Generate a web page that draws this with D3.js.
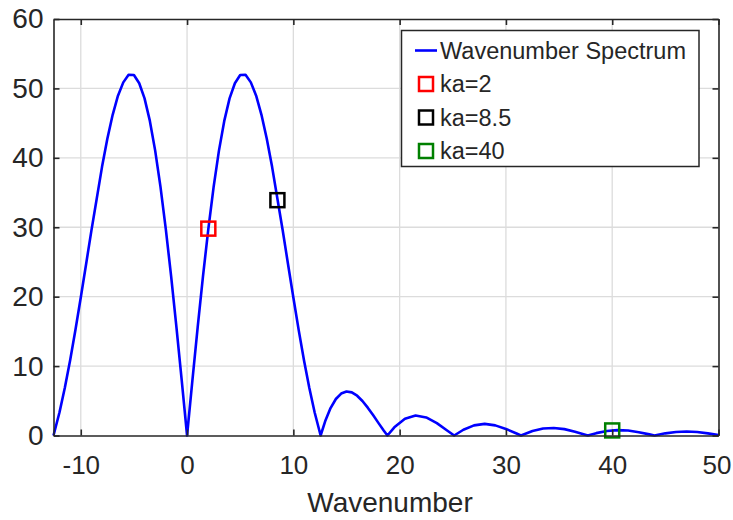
<!DOCTYPE html>
<html>
<head>
<meta charset="utf-8">
<script src="https://cdn.jsdelivr.net/npm/d3@7"></script>
<style>
  body { margin: 0; background: #fff; }
  text { font-family: "Liberation Sans", Arial, sans-serif; fill: #262626; }
</style>
</head>
<body>
<div id="chart"></div>
<script>
// wavenumber spectrum
var waveNumber = [-12.566, -12, -11.5, -11, -10.5, -10, -9.5, -9, -8.5, -8, -7.5, -7, -6.5, -6, -5.5, -5,
    -4.5, -4, -3.5, -3, -2.5, -2, -1.5, -1, -0.5, 0,
    0.5, 1, 1.5, 2, 2.5, 3, 3.5, 4, 4.5, 5, 5.5, 6, 6.5, 7, 7.5, 8, 8.5, 9, 9.5, 10, 10.5, 11, 11.5, 12, 12.566,
    13, 13.5, 14, 14.5, 15, 15.5, 16, 16.5, 17, 17.5, 18, 18.5, 18.85,
    19.5, 20.5, 21.5, 22.5, 23.5, 24.5, 25.133,
    26, 27, 28, 29, 30, 31, 31.416,
    32.5, 33.5, 34.5, 35.5, 36.5, 37.699,
    38.5, 39.5, 40.5, 41.5, 42.5, 43.5, 43.982,
    45, 46, 47, 48, 49, 50];
var spectrum = [0, 3.35, 6.87, 10.85, 15.22, 19.87, 24.68, 29.52, 34.1, 38.70, 42.74, 46.20, 48.95, 50.87, 51.97, 51.94,
    50.75, 48.57, 45.32, 41.04, 35.81, 29.74, 22.96, 15.62, 7.91, 0,
    7.91, 15.62, 22.96, 29.74, 35.81, 41.04, 45.32, 48.57, 50.75, 51.94, 51.97, 50.87, 48.95, 46.20, 42.74, 38.70, 34.1, 29.52, 24.68, 19.87, 15.22, 10.85, 6.87, 3.35, 0,
    2.08, 3.95, 5.26, 6.04, 6.34, 6.21, 5.73, 4.97, 4.01, 2.94, 1.82, 0.72, 0,
    1.18, 2.42, 2.88, 2.60, 1.78, 0.69, 0,
    0.83, 1.46, 1.67, 1.46, 0.95, 0.28, 0,
    0.64, 1.00, 1.09, 0.92, 0.55, 0,
    0.34, 0.65, 0.77, 0.71, 0.48, 0.16, 0,
    0.31, 0.51, 0.58, 0.50, 0.31, 0.07];

var markerNames = ["ka=2", "ka=8.5", "ka=40"];
var markerK = [2, 8.5, 40];
var markerValue = [29.8, 33.9, 0.73];
var markerColours = ["#ff0000", "#000000", "#008000"];

var xTicks = [-10, 0, 10, 20, 30, 40, 50];
var yTicks = [0, 10, 20, 30, 40, 50, 60];

window.onload = function(){
    drawChart();
};

function drawChart(){
    var svg = d3.select("#chart").append("svg").attr("width", 733).attr("height", 520);

    var left = 53.5, right = 718.5, top = 19, bottom = 435.5;

    var xScale = d3.scaleLinear().domain([-12.566, 50]).range([left, right]);
    var yScale = d3.scaleLinear().domain([0, 60]).range([bottom, top]);

    // grid
    svg.append("g").selectAll("line")
        .data(xTicks.filter(function(d){ return d < 50; }))
        .enter().append("line")
        .attr("x1", function(d){ return xScale(d); })
        .attr("x2", function(d){ return xScale(d); })
        .attr("y1", top).attr("y2", bottom)
        .attr("stroke", "#dcdcdc").attr("stroke-width", 1.3);

    svg.append("g").selectAll("line")
        .data(yTicks.filter(function(d){ return d > 0 && d < 60; }))
        .enter().append("line")
        .attr("x1", left).attr("x2", right)
        .attr("y1", function(d){ return yScale(d); })
        .attr("y2", function(d){ return yScale(d); })
        .attr("stroke", "#dcdcdc").attr("stroke-width", 1.3);

    // the spectrum
    var line = d3.line()
        .x(function(d, i){ return xScale(waveNumber[i]); })
        .y(function(d){ return yScale(d); });

    svg.append("path")
        .datum(spectrum)
        .attr("d", line)
        .attr("fill", "none")
        .attr("stroke", "#0000ff")
        .attr("stroke-width", 2.6)
        .attr("stroke-linejoin", "round");

    // ka markers
    svg.append("g").selectAll("rect")
        .data(markerK)
        .enter().append("rect")
        .attr("x", function(d){ return xScale(d) - 7; })
        .attr("y", function(d, i){ return yScale(markerValue[i]) - 7; })
        .attr("width", 14).attr("height", 14)
        .attr("fill", "none")
        .attr("stroke", function(d, i){ return markerColours[i]; })
        .attr("stroke-width", 2.5);

    // axes, ticks pointing inwards on all four sides
    var plain = function(d){ return String(d); };
    var xAxis = svg.append("g")
        .attr("transform", "translate(0," + bottom + ")")
        .call(d3.axisBottom(xScale).tickValues(xTicks).tickFormat(plain).tickSize(-6).tickSizeOuter(0).tickPadding(20));
    var yAxis = svg.append("g")
        .attr("transform", "translate(" + left + ",0)")
        .call(d3.axisLeft(yScale).tickValues(yTicks).tickFormat(plain).tickSize(-6).tickSizeOuter(0).tickPadding(10));
    var xTop = svg.append("g")
        .attr("transform", "translate(0," + top + ")")
        .call(d3.axisTop(xScale).tickValues(xTicks).tickSize(-6).tickSizeOuter(0).tickFormat(""));
    var yRight = svg.append("g")
        .attr("transform", "translate(" + right + ",0)")
        .call(d3.axisRight(yScale).tickValues(yTicks).tickSize(-6).tickSizeOuter(0).tickFormat(""));

    [xAxis, yAxis, xTop, yRight].forEach(function(a){
        a.select(".domain").attr("stroke", "#262626").attr("stroke-width", 1.6);
        a.selectAll(".tick line").attr("stroke", "#262626").attr("stroke-width", 1.6);
        a.selectAll(".tick text")
            .attr("fill", "#262626")
            .style("font-family", "'Liberation Sans', Arial, sans-serif")
            .style("font-size", "28px");
    });

    // x tick labels a bit smaller; the last one sits against the picture's right edge
    xAxis.selectAll(".tick text").style("font-size", "26px")
        .filter(function(d){ return d === 50; })
        .attr("text-anchor", "end")
        .attr("x", 12.5);

    // axis label
    svg.append("text")
        .attr("x", 390)
        .attr("y", 512)
        .style("text-anchor", "middle")
        .style("font-size", "28px")
        .text("Wavenumber");

    // legend
    var lg = svg.append("g");
    lg.append("rect")
        .attr("x", 401.5).attr("y", 30.5)
        .attr("width", 297.5).attr("height", 136)
        .attr("fill", "#fff")
        .attr("stroke", "#262626").attr("stroke-width", 1.5);

    var rowY = [50.5, 84, 117.5, 151];
    lg.append("line")
        .attr("x1", 415).attr("x2", 437)
        .attr("y1", rowY[0]).attr("y2", rowY[0])
        .attr("stroke", "#0000ff").attr("stroke-width", 2.6);
    lg.append("text")
        .attr("x", 440).attr("y", rowY[0]).attr("dy", "0.35em")
        .style("font-size", "23.5px")
        .text("Wavenumber Spectrum");

    markerNames.forEach(function(name, i){
        lg.append("rect")
            .attr("x", 419).attr("y", rowY[i + 1] - 7)
            .attr("width", 14).attr("height", 14)
            .attr("fill", "none")
            .attr("stroke", markerColours[i]).attr("stroke-width", 2.5);
        lg.append("text")
            .attr("x", 440).attr("y", rowY[i + 1]).attr("dy", "0.35em")
            .style("font-size", "23.5px")
            .text(name);
    });
}
</script>
</body>
</html>
